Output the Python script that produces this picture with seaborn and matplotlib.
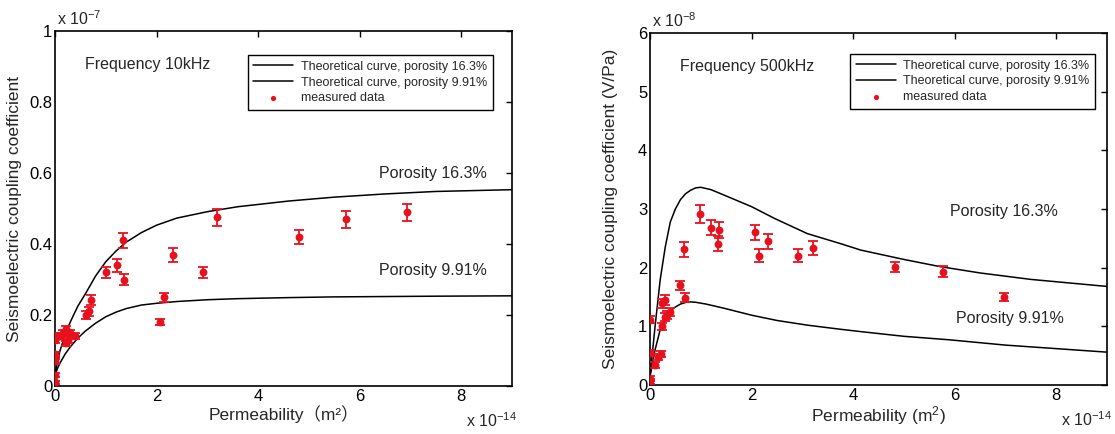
import numpy as np
import pandas as pd
import matplotlib
matplotlib.use("Agg")
import matplotlib.pyplot as plt
import seaborn as sns

# ---------------- data (x in 1e-14 m^2) ----------------
# Left panel: 10 kHz (y in 1e-7)
curve_k_left = [0, 0.05, 0.1, 0.2, 0.3, 0.45, 0.6, 0.8, 1.0, 1.2, 1.4, 1.7, 2.0, 2.4,
                3.0, 3.6, 4.6, 5.5, 6.5, 7.5, 9.0]
curve_hi_left = [0.03, 0.07, 0.10, 0.145, 0.18, 0.225, 0.26, 0.31, 0.35, 0.38, 0.405,
                 0.432, 0.453, 0.473, 0.491, 0.505, 0.521, 0.532, 0.541, 0.548, 0.553]
curve_lo_left = [0.03, 0.05, 0.065, 0.09, 0.11, 0.135, 0.155, 0.177, 0.195, 0.208, 0.218,
                 0.228, 0.233, 0.238, 0.243, 0.246, 0.249, 0.251, 0.252, 0.253, 0.254]
meas_k_left = [0, 0, 0, 0, 0, 0.05, 0.10, 0.16, 0.21, 0.22, 0.26, 0.30, 0.40,
               0.61, 0.675, 0.71, 1.0, 1.23, 1.33, 1.36, 2.07, 2.15, 2.32, 2.91, 3.2,
               4.81, 5.74, 6.94]
meas_v_left = [0.01, 0.03, 0.07, 0.09, 0.13, 0.14, 0.14, 0.15, 0.16, 0.12, 0.13, 0.15, 0.14,
               0.20, 0.21, 0.242, 0.32, 0.34, 0.41, 0.30, 0.18, 0.25, 0.37, 0.32, 0.475,
               0.42, 0.47, 0.49]
meas_e_left = [0.005, 0.006, 0.007, 0.007, 0.008, 0.008, 0.008, 0.009, 0.009, 0.008, 0.008, 0.009, 0.008,
               0.01, 0.012, 0.014, 0.016, 0.018, 0.022, 0.016, 0.008, 0.012, 0.02, 0.016, 0.024,
               0.02, 0.024, 0.024]

# Right panel: 500 kHz (y in 1e-8 V/Pa)
curve_k_right_hi = [0, 0.1, 0.2, 0.3, 0.4, 0.5, 0.6, 0.7, 0.8, 0.9, 1.0, 1.2, 1.45, 2.0,
                    2.45, 3.1, 3.75, 4.15, 5.0, 5.7, 6.5, 7.5, 9.0]
curve_hi_right = [0.14, 1.0, 1.79, 2.35, 2.78, 3.0, 3.16, 3.26, 3.32, 3.36, 3.37, 3.33,
                  3.24, 3.04, 2.84, 2.58, 2.41, 2.30, 2.14, 2.02, 1.91, 1.80, 1.68]
curve_k_right_lo = [0, 0.1, 0.2, 0.3, 0.4, 0.5, 0.6, 0.75, 0.9, 1.1, 1.45, 2.0, 2.5, 3.1,
                    3.75, 4.15, 5.0, 5.9, 7.0, 8.0, 9.0]
curve_lo_right = [0.14, 0.6, 0.94, 1.12, 1.26, 1.33, 1.38, 1.42, 1.41, 1.38, 1.31, 1.19,
                  1.10, 1.02, 0.95, 0.91, 0.83, 0.77, 0.68, 0.62, 0.56]
meas_k_right = [0, 0, 0, 0, 0.10, 0.16, 0.21, 0.23, 0.23, 0.30, 0.30, 0.34, 0.39,
                0.59, 0.66, 0.69, 0.985, 1.2, 1.33, 1.35, 2.07, 2.15, 2.32, 2.92, 3.21,
                4.83, 5.77, 6.98]
meas_v_right = [0.06, 0.11, 0.55, 1.11, 0.34, 0.48, 0.53, 1.0, 1.39, 1.45, 1.16, 1.19, 1.25,
                1.70, 2.31, 1.49, 2.91, 2.68, 2.41, 2.64, 2.60, 2.20, 2.45, 2.20, 2.33,
                2.01, 1.93, 1.50]
meas_e_right = [0.05, 0.05, 0.05, 0.06, 0.05, 0.05, 0.05, 0.06, 0.08, 0.08, 0.07, 0.07, 0.07,
                0.08, 0.12, 0.08, 0.15, 0.13, 0.13, 0.13, 0.13, 0.11, 0.13, 0.11, 0.12,
                0.09, 0.09, 0.06]

sns.set_style("white")
plt.rcParams['font.family'] = ['Liberation Sans', 'Noto Sans CJK SC', 'DejaVu Sans']
plt.rcParams['mathtext.fontset'] = 'custom'
plt.rcParams['mathtext.rm'] = 'Liberation Sans'
plt.rcParams['mathtext.it'] = 'Liberation Sans:italic'
plt.rcParams['mathtext.bf'] = 'Liberation Sans:bold'

RED = '#e8101c'
fig = plt.figure(figsize=(11.15, 4.34), dpi=100)
axL = fig.add_axes([55/1115, 1-386/434, 457/1115, 355/434])
axR = fig.add_axes([650/1115, 1-385/434, 457/1115, 352/434])


def draw(ax, kh, vh, kl, vl, mk, mv, me):
    dh = pd.DataFrame({'k': kh, 'v': vh})
    dl = pd.DataFrame({'k': kl, 'v': vl})
    dm = pd.DataFrame({'k': mk, 'v': mv, 'e': me})
    sns.lineplot(data=dh, x='k', y='v', ax=ax, color='black', lw=1.1,
                 label='Theoretical curve, porosity 16.3%', sort=False)
    sns.lineplot(data=dl, x='k', y='v', ax=ax, color='black', lw=1.1,
                 label='Theoretical curve, porosity 9.91%', sort=False)
    ax.errorbar(dm['k'], dm['v'], yerr=dm['e'], fmt='none', ecolor=RED,
                elinewidth=1.3, capsize=3.5, capthick=1.3, zorder=3)
    sns.scatterplot(data=dm, x='k', y='v', ax=ax, color=RED, s=32,
                    edgecolor=RED, linewidth=0, label='measured data', zorder=4)
    ax.set_xlim(0, 9)
    ax.set_xticks([0, 2, 4, 6, 8])
    ax.tick_params(direction='in', length=4, width=1, top=True, right=True,
                   labelsize=12, pad=2, colors='black')
    for s in ax.spines.values():
        s.set_color('black')
        s.set_linewidth(1.2)


draw(axL, curve_k_left, curve_hi_left, curve_k_left, curve_lo_left,
     meas_k_left, meas_v_left, meas_e_left)
axL.set_ylim(0, 1)
axL.set_yticks([0, 0.2, 0.4, 0.6, 0.8, 1])
axL.set_yticklabels(['0', '0.2', '0.4', '0.6', '0.8', '1'])
axL.set_xticklabels(['0', '2', '4', '6', '8'])
axL.set_ylabel('Seismoelectric coupling coefficient', fontsize=12.5, labelpad=5)
axL.set_xlabel('Permeability（m²）', fontsize=12.5, labelpad=1)

draw(axR, curve_k_right_hi, curve_hi_right, curve_k_right_lo, curve_lo_right,
     meas_k_right, meas_v_right, meas_e_right)
axR.set_ylim(0, 6)
axR.set_yticks([0, 1, 2, 3, 4, 5, 6])
axR.set_yticklabels(['0', '1', '2', '3', '4', '5', '6'])
axR.set_xticklabels(['0', '2', '4', '6', '8'])
axR.set_ylabel('Seismoelectric coupling coefficient (V/Pa)', fontsize=12.5, labelpad=14)
axR.set_xlabel('Permeability (m$^2$)', fontsize=12.5, labelpad=1)

for ax, loc, freq, p16, p99, ex in [
        (axL, (0.958, 0.932), 'Frequency 10kHz', (0.71, 0.60), (0.71, 0.325), '-7'),
        (axR, (0.974, 0.940), 'Frequency 500kHz', (0.656, 0.494), (0.67, 0.19), '-8')]:
    leg = ax.legend(loc='upper right', bbox_to_anchor=loc, fontsize=9, frameon=True,
                    fancybox=False, edgecolor='black', framealpha=1, handlelength=3.2,
                    borderpad=0.45, labelspacing=0.3, handletextpad=0.6, borderaxespad=0)
    leg.get_frame().set_linewidth(1.0)
    for h in leg.legend_handles:
        if hasattr(h, 'set_sizes'):
            h.set_sizes([14])
    ax.text(0.065, 0.905, freq, transform=ax.transAxes, fontsize=11.5, va='center', ha='left')
    ax.text(p16[0], p16[1], 'Porosity 16.3%', transform=ax.transAxes, fontsize=11.5,
            va='center', ha='left')
    ax.text(p99[0], p99[1], 'Porosity 9.91%', transform=ax.transAxes, fontsize=11.5,
            va='center', ha='left')
    ax.text(0.005, 1.008, 'x 10$^{' + ex + '}$', transform=ax.transAxes, fontsize=11.5,
            va='bottom', ha='left')
    ax.text(0.9, -0.072, 'x 10$^{-14}$', transform=ax.transAxes, fontsize=11.5,
            va='top', ha='left')

fig.savefig('out.png', dpi=100)
